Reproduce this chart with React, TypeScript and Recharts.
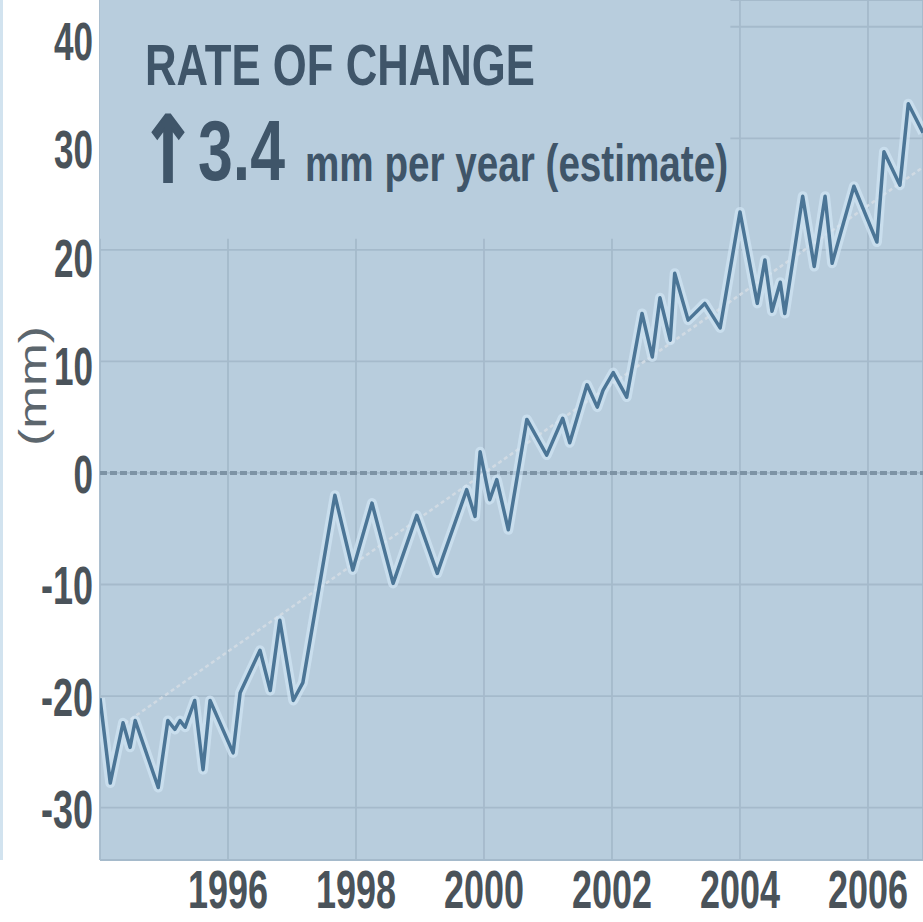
import React from "react";
import { LineChart, Line, XAxis, YAxis, CartesianGrid, ReferenceLine, ReferenceArea } from "recharts";

// sea level change
const years = [
  1994.0, 1994.16, 1994.36, 1994.47, 1994.55, 1994.91, 1995.06, 1995.17, 1995.25, 1995.33,
  1995.48, 1995.61, 1995.72, 1996.08, 1996.19, 1996.5, 1996.66, 1996.81, 1997.02, 1997.17,
  1997.67, 1997.95, 1998.25, 1998.58, 1998.95, 1999.27, 1999.36, 1999.73, 1999.86, 1999.94,
  2000.09, 2000.2, 2000.38, 2000.67, 2000.98, 2001.23, 2001.34, 2001.61, 2001.77, 2001.86,
  2002.02, 2002.23, 2002.47, 2002.63, 2002.75, 2002.91, 2002.98, 2003.19, 2003.45, 2003.69,
  2004.0, 2004.27, 2004.39, 2004.5, 2004.63, 2004.7, 2004.98, 2005.16, 2005.33, 2005.44,
  2005.78, 2006.14, 2006.25, 2006.5, 2006.63, 2006.86,
];
const levels = [
  -20.2, -27.8, -22.4, -24.6, -22.2, -28.2, -22.2, -23.0, -22.2, -22.8,
  -20.4, -26.6, -20.4, -25.1, -19.7, -15.9, -19.5, -13.2, -20.4, -18.8,
  -2.0, -8.7, -2.7, -9.9, -3.8, -9.0, -7.5, -1.5, -3.9, 1.9,
  -2.4, -0.6, -5.1, 4.8, 1.6, 4.9, 2.7, 7.9, 5.9, 7.4,
  9.0, 6.8, 14.3, 10.4, 15.7, 11.9, 17.9, 13.7, 15.2, 13.0,
  23.4, 15.2, 19.1, 14.5, 17.1, 14.3, 24.8, 18.5, 24.8, 18.8,
  25.7, 20.7, 28.8, 25.8, 33.1, 30.5,
];

const trendYears = [1994.3, 2006.86];
const trendLevels = [-22.8, 27.4];

const yearTicks = [1996, 1998, 2000, 2002, 2004, 2006];
const levelTicks = [-30, -20, -10, 0, 10, 20, 30, 40];

const BG = "#b8cddd";
const INK = "#3f5569";
const LABEL = "#4a535a";
const FONT = "'Liberation Sans', Arial, sans-serif";

const YearTick = (props: any) => (
  <text
    x={props.x}
    y={908}
    textAnchor="middle"
    fontFamily={FONT}
    fontWeight="bold"
    fontSize={54}
    fill={LABEL}
    textLength={80}
    lengthAdjust="spacingAndGlyphs"
  >
    {props.payload.value}
  </text>
);

const LevelTick = (props: any) => {
  const v = props.payload.value;
  const s = String(v);
  const digits = s.replace("-", "").length;
  const len = digits * 19.5 + (v < 0 ? 13 : 0);
  return (
    <text
      x={93}
      y={props.y + 20 + (v > 0 ? v / 3 : 0)}
      textAnchor="end"
      fontFamily={FONT}
      fontWeight="bold"
      fontSize={54}
      fill={LABEL}
      textLength={len}
      lengthAdjust="spacingAndGlyphs"
    >
      {s}
    </text>
  );
};

export default function App() {
  const data = years.map((year, i) => ({ year, level: levels[i] }));
  const trend = trendYears.map((year, i) => ({ year, trend: trendLevels[i] }));

  return (
    <div style={{ position: "absolute", left: 0, top: 0, width: 923, height: 922, background: "#fff" }}>
      <div style={{ position: "absolute", left: 0, top: 0, width: 3, height: 860, background: "#d2e3ef" }} />
      <LineChart width={923} height={922} data={data} margin={{ top: 0, right: 0, bottom: 0, left: 0 }}>
        <CartesianGrid fill={BG} fillOpacity={1} stroke="#a5bacb" strokeWidth={1.8} />
        <ReferenceArea
          x1={1994}
          x2={2003.85}
          y1={21}
          y2={42.4}
          fill={BG}
          fillOpacity={1}
          stroke="none"
          ifOverflow="hidden"
        />
        <ReferenceLine y={0} stroke="#7d93a5" strokeWidth={4} strokeDasharray="7 3" />
        <XAxis
          type="number"
          dataKey="year"
          domain={[1994, 2006.86]}
          ticks={yearTicks}
          allowDataOverflow
          height={62}
          axisLine={false}
          tickLine={false}
          tick={(p: any) => <YearTick {...p} />}
        />
        <YAxis
          type="number"
          domain={[-34.7, 42.4]}
          ticks={levelTicks}
          allowDataOverflow
          width={100}
          axisLine={false}
          tickLine={false}
          tick={(p: any) => <LevelTick {...p} />}
        />
        <Line
          data={trend}
          dataKey="trend"
          stroke="#d0dae3"
          strokeWidth={2.5}
          strokeDasharray="4 3"
          dot={false}
          isAnimationActive={false}
        />
        <Line
          dataKey="level"
          name="halo"
          stroke="#d2e7f6"
          strokeWidth={10}
          strokeOpacity={0.65}
          strokeLinejoin="round"
          dot={false}
          isAnimationActive={false}
        />
        <Line
          dataKey="level"
          name="level"
          stroke="#4b7596"
          strokeWidth={3.5}
          strokeLinejoin="round"
          dot={false}
          isAnimationActive={false}
        />
      </LineChart>
      <svg
        width={923}
        height={922}
        style={{ position: "absolute", left: 0, top: 0, pointerEvents: "none" }}
      >
        <text
          x={145}
          y={85}
          fontFamily={FONT}
          fontWeight="bold"
          fontSize={58}
          fill={INK}
          textLength={390}
          lengthAdjust="spacingAndGlyphs"
        >
          RATE OF CHANGE
        </text>
        <text y={182} fontWeight="bold" fill={INK}>
          <tspan
            x={139}
            fontFamily="'DejaVu Sans', sans-serif"
            fontSize={92}
            stroke={INK}
            strokeWidth={2}
            textLength={58}
            lengthAdjust="spacingAndGlyphs"
          >
            ↑
          </tspan>
          <tspan
            x={198}
            y={180}
            fontFamily={FONT}
            fontSize={86}
            textLength={87}
            lengthAdjust="spacingAndGlyphs"
          >
            3.4
          </tspan>
        </text>
        <text
          x={305}
          y={181}
          fontFamily={FONT}
          fontWeight="bold"
          fontSize={52}
          fill={INK}
          textLength={423}
          lengthAdjust="spacingAndGlyphs"
        >
          mm per year (estimate)
        </text>
        <text
          transform="translate(46,386) rotate(-90)"
          textAnchor="middle"
          fontFamily={FONT}
          fontSize={38}
          fill="#5c666d"
          textLength={120}
          lengthAdjust="spacingAndGlyphs"
        >
          (mm)
        </text>
      </svg>
    </div>
  );
}
